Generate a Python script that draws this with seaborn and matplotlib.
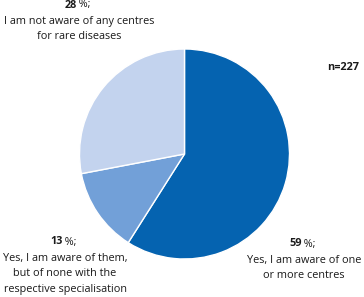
import matplotlib
matplotlib.use("Agg")
import matplotlib.pyplot as plt
import seaborn as sns

# data
answers = ["Yes, I am aware of one\nor more centres",
           "Yes, I am aware of them,\nbut of none with the\nrespective specialisation",
           "I am not aware of any centres\nfor rare diseases"]
shares = [59, 13, 28]
n_total = 227

sns.set_theme(style="white")
plt.rcParams['font.family'] = ['Open Sans', 'DejaVu Sans']
colors = ["#0563b0", "#72a0d8", "#c3d3ee"]

fig = plt.figure(figsize=(3.64, 2.97), dpi=100)
W, H = 364, 297
cx, cy, r = 184.5, 154, 105
ax = fig.add_axes([(cx - r) / W, (H - cy - r) / H, 2 * r / W, 2 * r / H])
ax.pie(shares, colors=colors, startangle=90, counterclock=False,
       wedgeprops=dict(edgecolor="white", linewidth=1))
ax.set_xlim(-1, 1)
ax.set_ylim(-1, 1)
ax.set_aspect("equal")
ax.axis("off")

fs = 7.8
# label positions in pixel coords (centre x of text, y of first line)
label_pos = [(304, 244), (65, 242), (79, 5)]
for (x, y), share, text in zip(label_pos, shares, answers):
    fx, fy = x / W, 1 - y / H
    fig.text(fx - 2 / W, fy, f"{share}", ha="right", va="center",
             fontsize=fs, fontweight="bold", color="#1a1a1a")
    fig.text(fx - 2 / W, fy, "\u2009%;", ha="left", va="center",
             fontsize=fs, color="#1a1a1a")
    fig.text(fx, fy - 11 / H, text, ha="center", va="top",
             fontsize=fs, color="#1a1a1a", linespacing=1.55)

fig.text(343 / W, 1 - 67 / H, f"n={n_total}", ha="center", va="center",
         fontsize=fs, fontweight="bold", color="#1a1a1a")

fig.savefig("out.png", dpi=100, facecolor="white")
